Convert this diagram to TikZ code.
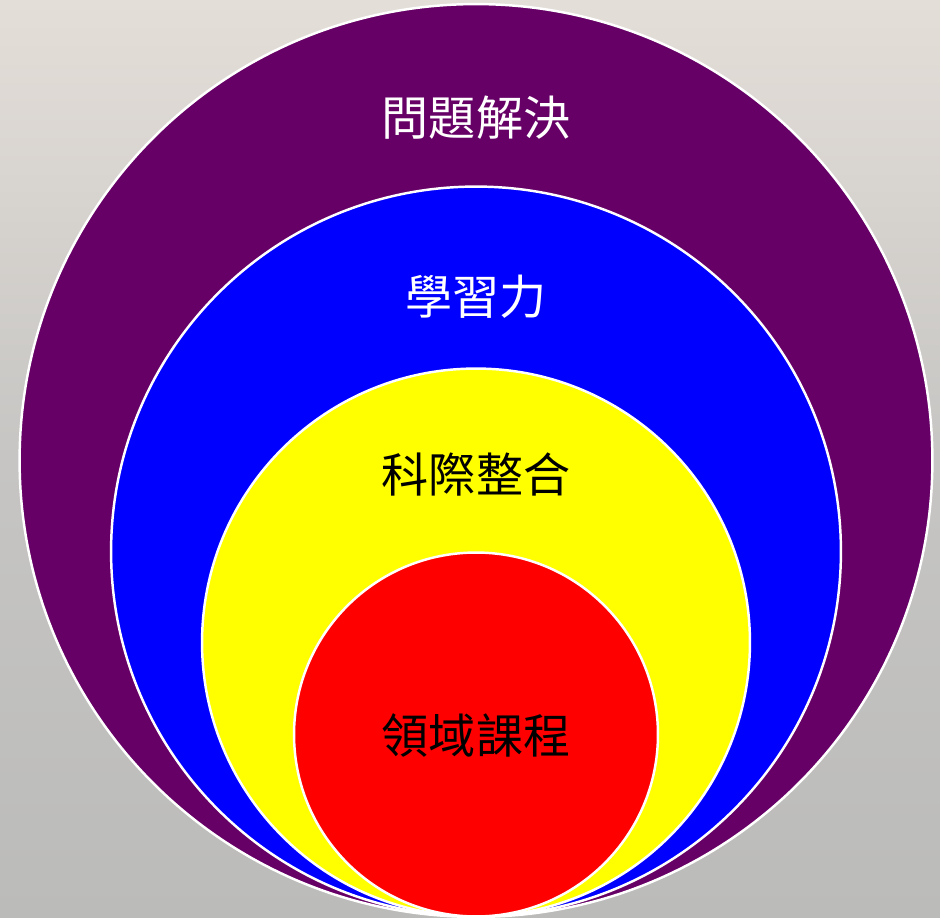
\documentclass[tikz,border=0pt]{standalone}
\usepackage{fontspec}
\newfontfamily\cjk{Noto Sans CJK TC}
\definecolor{plum}{HTML}{660066}
\definecolor{pureblue}{HTML}{0000FF}
\definecolor{pureyellow}{HTML}{FFFF00}
\definecolor{purered}{HTML}{FF0000}
\definecolor{bgtop}{HTML}{E4DED8}
\definecolor{bgmid}{HTML}{C6C5C3}
\definecolor{bgbot}{HTML}{BBBBB9}
\begin{document}
\begin{tikzpicture}[x=0.02cm,y=-0.02cm,
        lbl/.style={font=\cjk\fontsize{26.8}{32}\selectfont, inner sep=0pt}]
            \useasboundingbox (0,0) rectangle (940,918);
            \shade[top color=bgtop, bottom color=bgbot, middle color=bgmid] (0,0) rectangle (940,918);
            \foreach \n/\c/\y/\d in {solve/plum/460.5/18.26, learn/pureblue/551.5/14.6, inter/pureyellow/642.5/10.96, field/purered/734.5/7.28} {
                    \node[circle, draw=white, line width=1.4pt, fill=\c, minimum size=\d cm, inner sep=0pt] (\n) at (476,\y) {};
                }
            \node[lbl, text=white] (tsolve) at (476,118) {問題解決};
            \node[lbl, text=white] (tlearn) at (476,297) {學習力};
            \node[lbl] (tinter) at (476,475) {科際整合};
            \node[lbl] (tfield) at (476,735) {領域課程};
        \end{tikzpicture}
\end{document}
